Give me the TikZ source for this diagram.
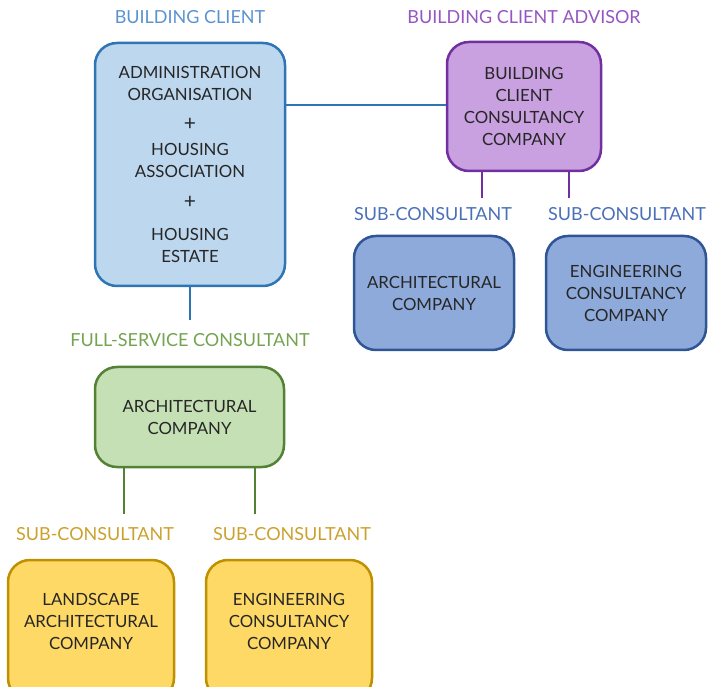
\documentclass[tikz,border=0pt]{standalone}
\usepackage{fontspec}
\setmainfont{Lato}
\usepackage{xcolor}
\usetikzlibrary{positioning,calc}

\definecolor{clientfill}{HTML}{BDD7EE}
\definecolor{clientline}{HTML}{2E75B6}
\definecolor{clienttext}{HTML}{5B93CF}
\definecolor{advisorfill}{HTML}{C9A0E0}
\definecolor{advisorline}{HTML}{7030A0}
\definecolor{advisortext}{HTML}{9556C0}
\definecolor{subfill}{HTML}{8EAADB}
\definecolor{subline}{HTML}{2F5597}
\definecolor{subtext}{HTML}{4A70B8}
\definecolor{fullfill}{HTML}{C5E0B4}
\definecolor{fullline}{HTML}{548235}
\definecolor{fulltext}{HTML}{74A452}
\definecolor{landfill}{HTML}{FFD966}
\definecolor{landline}{HTML}{BF9000}
\definecolor{landtext}{HTML}{CBA12E}
\definecolor{boxtext}{HTML}{262626}

\newcommand{\plussign}{{\fontsize{21}{22}\selectfont +}}

\begin{document}
\begin{tikzpicture}[x=1pt, y=-1pt,
    company/.style={draw, line width=2.5pt, rounded corners=22pt, align=center,
        text=boxtext, font=\fontsize{16.8}{22}\selectfont, inner sep=0pt},
    role/.style={font=\fontsize{18}{22}\selectfont},
    link/.style={line width=2.7pt}]
    \useasboundingbox (0,0) rectangle (713,687);

    % Building client
    \node[role, text=clienttext] (clientlbl) at (190,17) {BUILDING CLIENT};
    \node[company, fill=clientfill, draw=clientline, minimum width=190pt, minimum height=243pt]
        (client) at (190,164.5) {ADMINISTRATION\\ORGANISATION\\[8pt]\plussign\\[3pt]HOUSING\\ASSOCIATION\\[9pt]\plussign\\[10pt]HOUSING\\ESTATE};

    % Building client advisor
    \node[role, text=advisortext] (advisorlbl) at (524,17) {BUILDING CLIENT ADVISOR};
    \node[company, fill=advisorfill, draw=advisorline, minimum width=154pt, minimum height=129pt]
        (advisor) at (524,106.5) {BUILDING\\CLIENT\\CONSULTANCY\\COMPANY};

    % Sub-consultants of the advisor
    \node[role, text=subtext] (sublblA) at (433,214) {SUB-CONSULTANT};
    \node[role, text=subtext] (sublblB) at (627,214) {SUB-CONSULTANT};
    \node[company, fill=subfill, draw=subline, minimum width=160pt, minimum height=114pt]
        (subarch) at (434,293) {ARCHITECTURAL\\COMPANY};
    \node[company, fill=subfill, draw=subline, minimum width=160pt, minimum height=114pt]
        (subeng) at (626,293) {ENGINEERING\\CONSULTANCY\\COMPANY};

    % Full-service consultant
    \node[role, text=fulltext] (fulllbl) at (190,340) {FULL-SERVICE CONSULTANT};
    \node[company, fill=fullfill, draw=fullline, minimum width=189pt, minimum height=100pt]
        (fullarch) at (189.5,417) {ARCHITECTURAL\\COMPANY};

    % Sub-consultants of the full-service consultant
    \node[role, text=landtext] (sublblC) at (95,534) {SUB-CONSULTANT};
    \node[role, text=landtext] (sublblD) at (292,534) {SUB-CONSULTANT};
    \node[company, fill=landfill, draw=landline, minimum width=166pt, minimum height=140pt, text depth=17pt]
        (landarch) at (91,630) {LANDSCAPE\\ARCHITECTURAL\\COMPANY};
    \node[company, fill=landfill, draw=landline, minimum width=166pt, minimum height=140pt, text depth=17pt]
        (landeng) at (289,630) {ENGINEERING\\CONSULTANCY\\COMPANY};

    % Connectors
    \coordinate (clientend) at (190,320);
    \coordinate (advA) at (482,198);
    \coordinate (advB) at (569,198);
    \coordinate (fullA) at (124,514);
    \coordinate (fullB) at (255,514);
    \draw[link, clientline] (advisor.west |- 0,105) -- (client.east |- 0,105);
    \draw[link, clientline] (client.south) -- (clientend);
    \draw[link, advisorline] (advisor.south -| advA) -- (advA);
    \draw[link, advisorline] (advisor.south -| advB) -- (advB);
    \draw[link, fullline] (fullarch.south -| fullA) -- (fullA);
    \draw[link, fullline] (fullarch.south -| fullB) -- (fullB);
\end{tikzpicture}
\end{document}
